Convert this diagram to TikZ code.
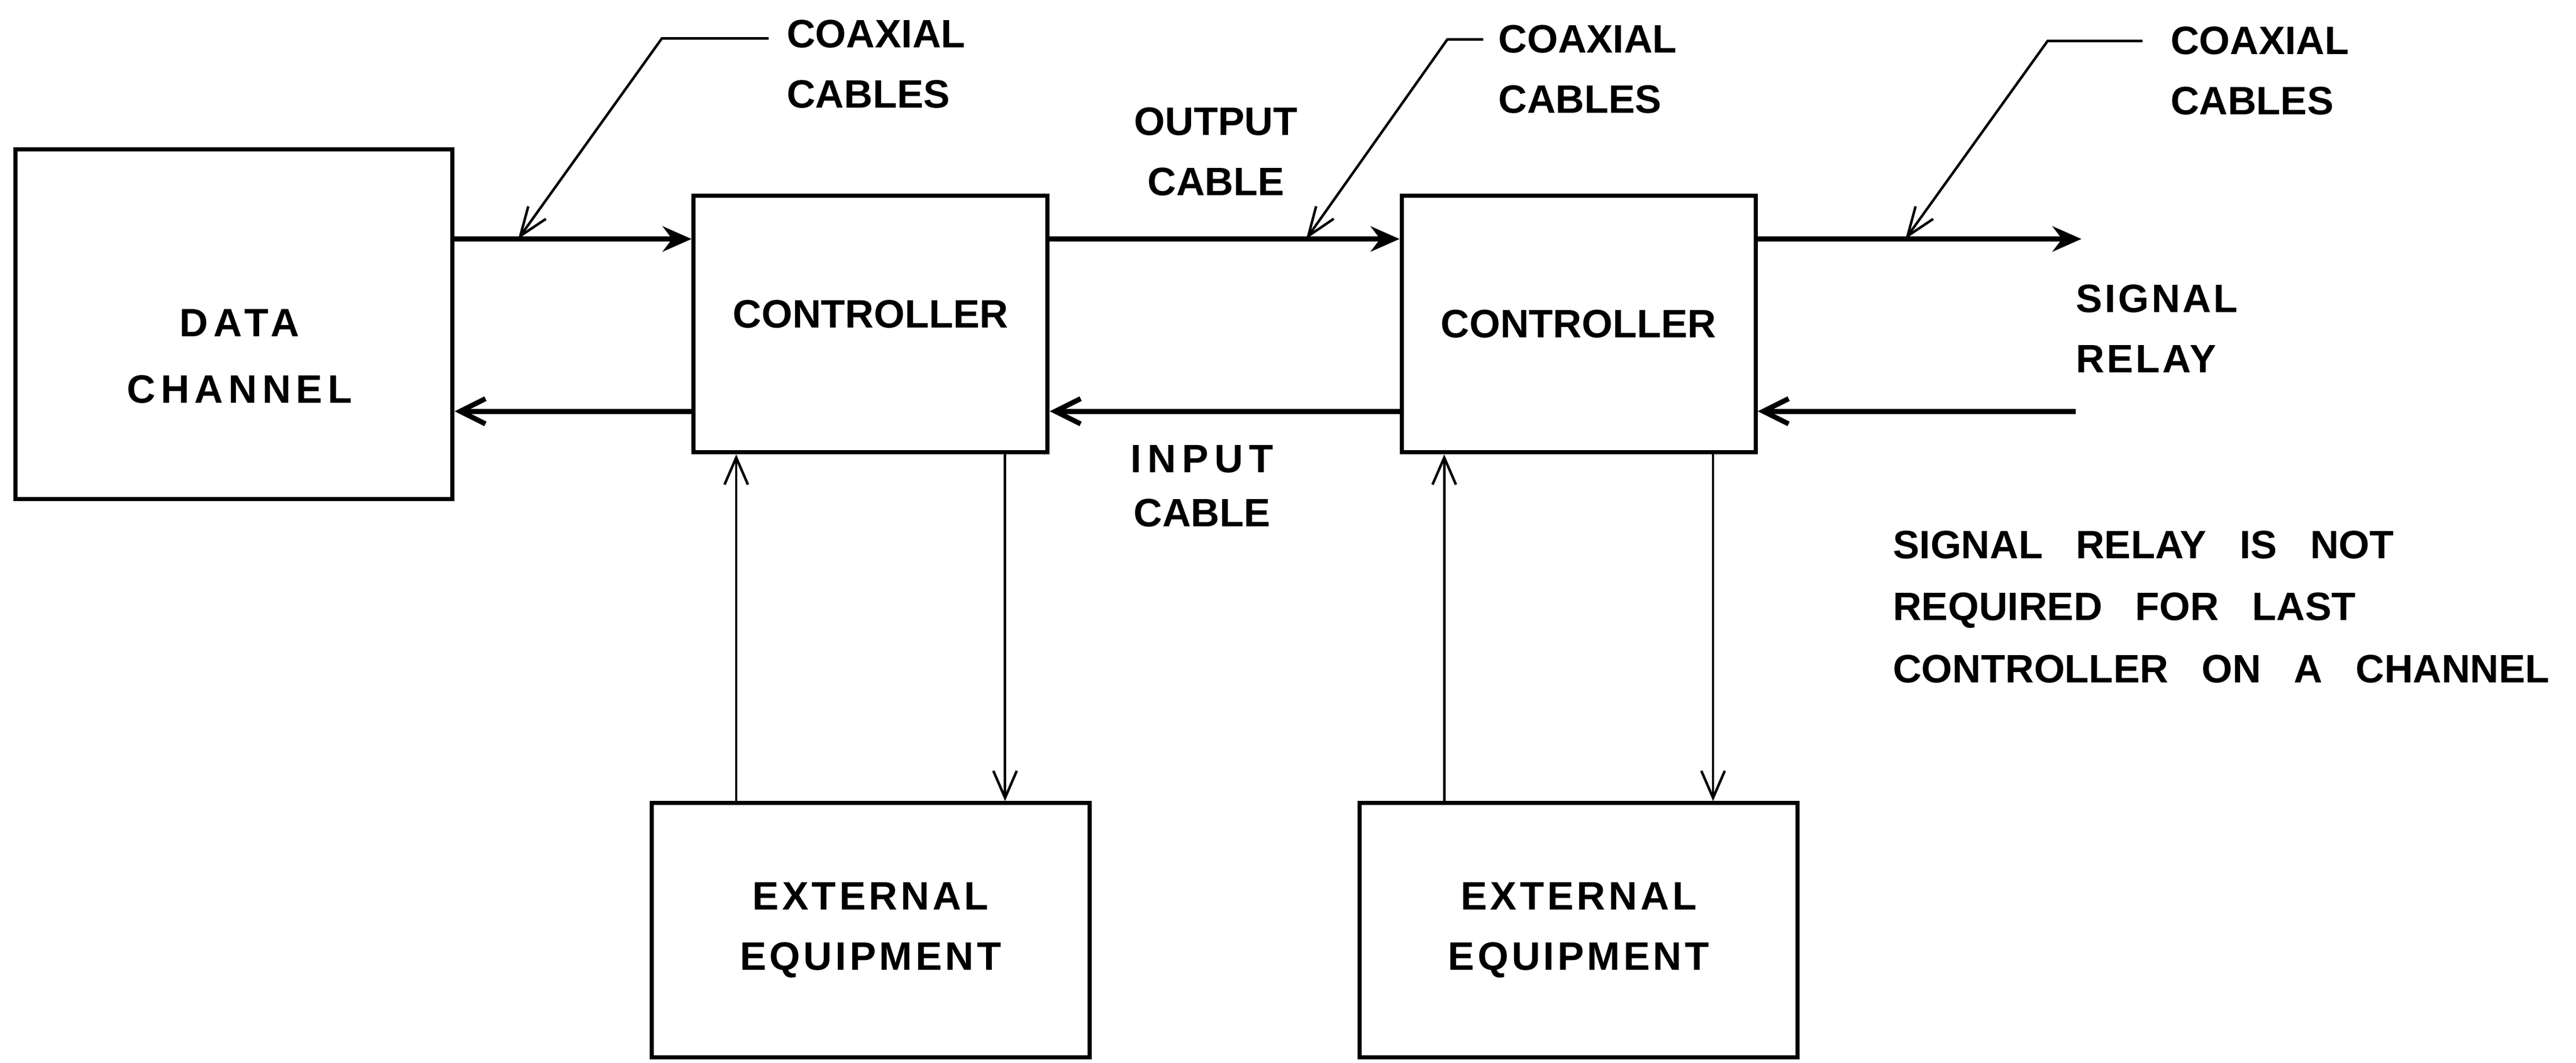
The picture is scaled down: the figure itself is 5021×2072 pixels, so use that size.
\documentclass[tikz,border=0pt]{standalone}
\usepackage{fontspec}
\setmainfont{Liberation Sans}
\newfontfamily\notefont{Liberation Sans}[WordSpace=3]
\usepackage{tikz}
\usetikzlibrary{arrows.meta, positioning}

\newcommand{\lblfont}{\fontsize{22}{33.5}\selectfont\bfseries}

\begin{document}
\begin{tikzpicture}[x=0.1mm, y=0.1mm]
	\tikzstyle{box} = [draw, line width=2.3pt, inner sep=0pt, align=center, font=\lblfont]
	\tikzstyle{ctrlsize} = [minimum width=6.9cm, minimum height=5cm]
	\tikzstyle{extsize} = [minimum width=8.53cm, minimum height=4.96cm, font=\lblfont\addfontfeature{LetterSpace=8}]
	\tikzstyle{lbl} = [inner sep=0pt, font=\lblfont]
	\tikzstyle{cableout} = [line width=2.8pt, -{Stealth[length=16pt,width=14pt]}]
	\tikzstyle{cablein} = [line width=2.8pt, -{Straight Barb[length=14pt,width=14pt]}]
	\tikzstyle{feed} = [line width=1.4pt, -{Straight Barb[length=15pt,width=13pt]}]
	\tikzstyle{lead} = [line width=1.4pt, -{Straight Barb[length=16pt,width=12pt]}]
	\useasboundingbox (0,0) rectangle (5021,2072);

	% boxes
	\node[box, minimum width=8.52cm, minimum height=6.82cm] (dc) at (456,1440) {};
	\node[lbl, align=center, font=\fontsize{22}{37}\selectfont\bfseries\addfontfeature{LetterSpace=13}]
		(dctext) at ([shift={(11,-63)}]dc.center) {DATA\\CHANNEL};
	\node[box, ctrlsize, text depth=4mm, node distance=12.41cm, right of=dc] (ctrl1) {CONTROLLER};
	\node[box, ctrlsize, node distance=13.8cm, right of=ctrl1] (ctrl2) {CONTROLLER};
	\node[box, extsize, node distance=11.82cm, below of=ctrl1] (ext1) {EXTERNAL\\EQUIPMENT};
	\node[box, extsize, node distance=11.82cm, below of=ctrl2] (ext2) {EXTERNAL\\EQUIPMENT};

	% labels
	\node[lbl, align=left, anchor=north west] (coax1) at (1533,2034) {COAXIAL\\CABLES};
	\node[lbl, align=left, anchor=north west] (coax2) at (2920,2024) {COAXIAL\\CABLES};
	\node[lbl, align=left, anchor=north west] (coax3) at (4230,2021) {COAXIAL\\CABLES};
	\node[lbl, align=center] (outcab) at (2370,1776) {OUTPUT\\CABLE};
	\node[lbl, align=center, font=\fontsize{22}{30}\selectfont\bfseries]
		(incab) at (2343,1124) {{\addfontfeature{LetterSpace=15}INPUT}\\CABLE};
	\node[lbl, align=left, anchor=north west, font=\lblfont\addfontfeature{LetterSpace=6}]
		(relay) at (4046,1518) {SIGNAL\\RELAY};
	\node[lbl, align=left, anchor=north west, font=\notefont\fontsize{22}{34.5}\selectfont\bfseries]
		(note) at (3689,1038) {SIGNAL RELAY IS NOT\\REQUIRED FOR LAST\\CONTROLLER ON A CHANNEL};

	% cable levels and free ends
	\coordinate (top) at (0,1606);
	\coordinate (bot) at (0,1270);
	\coordinate (sigout) at (4057,1606);
	\coordinate (sigin) at (4046,1270);
	\coordinate (tip1) at (1010,1606);
	\coordinate (tip2) at (2546,1606);
	\coordinate (tip3) at (3714,1606);

	% cables
	\draw[cableout] (dc.east |- top) -- (ctrl1.west |- top);
	\draw[cableout] (ctrl1.east |- top) -- (ctrl2.west |- top);
	\draw[cableout] (ctrl2.east |- top) -- (sigout);
	\draw[cablein] (ctrl1.west |- bot) -- (dc.east |- bot);
	\draw[cablein] (ctrl2.west |- bot) -- (ctrl1.east |- bot);
	\draw[cablein] (sigin) -- (ctrl2.east |- bot);

	% external equipment lines
	\foreach \c/\e in {ctrl1/ext1, ctrl2/ext2} {
		\draw[feed] ([xshift=-26.2mm]\e.north) -- ([xshift=-26.2mm]\c.south);
		\draw[feed] ([xshift=26.2mm]\c.south) -- ([xshift=26.2mm]\e.north);
	}

	% leaders to the cables
	\foreach \n/\gap/\dy/\len in {1/35/37/208, 2/29/29/70, 3/54/29/185}
		\draw[lead] ([shift={(-\gap,-\dy)}]coax\n.north west) -- ++(-\len,0) -- (tip\n);
\end{tikzpicture}
\end{document}
